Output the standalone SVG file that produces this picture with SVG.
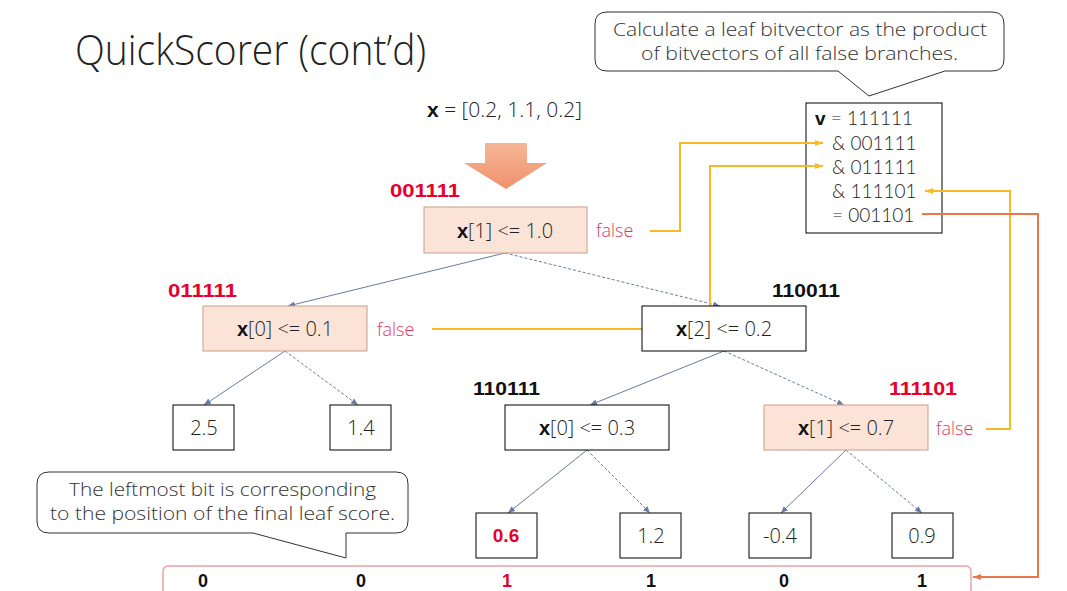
<svg xmlns="http://www.w3.org/2000/svg" width="1067" height="591" viewBox="0 0 1067 591">
<defs>
<style>
.lt{font-family:"Open Sans","Liberation Sans",sans-serif;font-weight:300;fill:#222}
.vb{font-family:"Lato","Open Sans","Liberation Sans",sans-serif;font-weight:300;font-size:19px;fill:#222}
.bd{font-family:"Liberation Sans","Noto Sans",sans-serif;font-weight:bold}
.red{fill:#e8002d}
.blk{fill:#111}
.fl{font-family:"Open Sans","Liberation Sans",sans-serif;font-weight:300;font-size:18px;fill:#d63c64}
.call{font-family:"Open Sans","Liberation Sans",sans-serif;font-weight:300;font-size:19px;fill:#333}
.pk{fill:#fbe4d7;stroke:#c99f88;stroke-width:1}
.wh{fill:#fff;stroke:#000;stroke-width:1}
.e{stroke:#6a78a8;stroke-width:1;fill:none}
.d{stroke-dasharray:3 2}
.y{stroke:#f9b927;stroke-width:2;fill:none}
.o{stroke:#e8784a;stroke-width:2;fill:none}
</style>
<marker id="ah" markerWidth="8" markerHeight="8" refX="7" refY="4" orient="auto" markerUnits="userSpaceOnUse"><path d="M0,1 L7,4 L0,7 Z" fill="#6a78a8"/></marker>
<marker id="ay" markerWidth="9" markerHeight="8" refX="8" refY="4" orient="auto" markerUnits="userSpaceOnUse"><path d="M0,1 L8,4 L0,7 Z" fill="#f9b927"/></marker>
<marker id="ao" markerWidth="9" markerHeight="8" refX="8" refY="4" orient="auto" markerUnits="userSpaceOnUse"><path d="M0,1 L8,4 L0,7 Z" fill="#e8784a"/></marker>
<linearGradient id="ga" x1="0" y1="0" x2="0" y2="1"><stop offset="0" stop-color="#f6b698"/><stop offset="1" stop-color="#f0916c"/></linearGradient>
</defs>
<rect width="1067" height="591" fill="#fff"/>

<text x="75" y="65" class="lt" font-size="43" textLength="351" lengthAdjust="spacingAndGlyphs">QuickScorer (cont’d)</text>
<text x="427" y="117" class="lt" font-size="21" textLength="155" lengthAdjust="spacingAndGlyphs"><tspan class="bd" fill="#111">x</tspan> = [0.2, 1.1, 0.2]</text>
<path d="M485,143 H527 V163 H547 L506,189 L464,163 H485 Z" fill="url(#ga)"/>

<g id="callout-top">
<path d="M607,12 H992 Q1004,12 1004,24 V59 Q1004,71 992,71 H945 L869,96 L838,71 H607 Q595,71 595,59 V24 Q595,12 607,12 Z" fill="#fff" stroke="#333" stroke-width="1"/>
<text x="613" y="36" class="call" textLength="374" lengthAdjust="spacingAndGlyphs">Calculate a leaf bitvector as the product</text>
<text x="641" y="60" class="call" textLength="317" lengthAdjust="spacingAndGlyphs">of bitvectors of all false branches.</text>
</g>

<g id="vbox">
<rect x="806" y="103" width="136" height="130" class="wh"/>
<text x="815" y="125" class="vb"><tspan class="bd" fill="#111">v</tspan> = 111111</text>
<text x="832" y="150" class="vb">&amp; 001111</text>
<text x="832" y="174" class="vb">&amp; 011111</text>
<text x="832" y="198" class="vb">&amp; 111101</text>
<text x="832" y="222" class="vb">= 001101</text>
</g>

<g id="connectors">
<path d="M505,253 L288,306" class="e" marker-end="url(#ah)"/>
<path d="M505,253 L720,306" class="e d" marker-end="url(#ah)"/>
<path d="M285,351 L204,405" class="e" marker-end="url(#ah)"/>
<path d="M285,351 L358,405" class="e d" marker-end="url(#ah)"/>
<path d="M724,351 L590,405" class="e" marker-end="url(#ah)"/>
<path d="M724,351 L844,405" class="e d" marker-end="url(#ah)"/>
<path d="M587,450 L508,513" class="e" marker-end="url(#ah)"/>
<path d="M587,450 L650,513" class="e d" marker-end="url(#ah)"/>
<path d="M846,450 L781,513" class="e" marker-end="url(#ah)"/>
<path d="M846,450 L922,513" class="e d" marker-end="url(#ah)"/>
<path d="M650,231 H680 V143 H823" class="y" marker-end="url(#ay)"/>
<path d="M432,329 H710 V166 H823" class="y" marker-end="url(#ay)"/>
<path d="M986,429 H1010 V191 H925" class="y" marker-end="url(#ay)"/>
<path d="M922,214 H1038 V577 H973" class="o" marker-end="url(#ao)"/>
</g>

<g id="n-root">
<text x="390" y="197" class="bd red" font-size="19" textLength="70" lengthAdjust="spacingAndGlyphs">001111</text>
<rect x="424" y="207" width="163" height="46" class="pk"/>
<text x="505" y="238" class="lt" font-size="20" text-anchor="middle"><tspan class="bd" fill="#111">x</tspan>[1] &lt;= 1.0</text>
<text x="596" y="237" class="fl">false</text>
</g>

<g id="n-x0-01">
<text x="168" y="297" class="bd red" font-size="19" textLength="69" lengthAdjust="spacingAndGlyphs">011111</text>
<rect x="203" y="306" width="164" height="45" class="pk"/>
<text x="285" y="336" class="lt" font-size="20" text-anchor="middle"><tspan class="bd" fill="#111">x</tspan>[0] &lt;= 0.1</text>
<text x="377" y="336" class="fl">false</text>
</g>

<g id="n-x2-02">
<text x="772" y="297" class="bd blk" font-size="19" textLength="68" lengthAdjust="spacingAndGlyphs">110011</text>
<rect x="642" y="306" width="164" height="45" class="wh"/>
<text x="724" y="336" class="lt" font-size="20" text-anchor="middle"><tspan class="bd" fill="#111">x</tspan>[2] &lt;= 0.2</text>
</g>

<g id="n-x0-03">
<text x="473" y="395" class="bd blk" font-size="19" textLength="67" lengthAdjust="spacingAndGlyphs">110111</text>
<rect x="505" y="405" width="164" height="45" class="wh"/>
<text x="587" y="435" class="lt" font-size="20" text-anchor="middle"><tspan class="bd" fill="#111">x</tspan>[0] &lt;= 0.3</text>
</g>

<g id="n-x1-07">
<text x="889" y="395" class="bd red" font-size="19" textLength="68" lengthAdjust="spacingAndGlyphs">111101</text>
<rect x="764" y="405" width="164" height="45" class="pk"/>
<text x="846" y="435" class="lt" font-size="20" text-anchor="middle"><tspan class="bd" fill="#111">x</tspan>[1] &lt;= 0.7</text>
<text x="936" y="435" class="fl">false</text>
</g>

<g id="leaf-25"><rect x="173" y="405" width="61" height="45" class="wh"/><text x="204" y="435" class="lt" font-size="20" text-anchor="middle">2.5</text></g>
<g id="leaf-14"><rect x="330" y="405" width="61" height="45" class="wh"/><text x="361" y="435" class="lt" font-size="20" text-anchor="middle">1.4</text></g>
<g id="leaf-06"><rect x="476" y="513" width="61" height="45" class="wh"/><text x="506" y="542" class="bd red" font-size="19" text-anchor="middle">0.6</text></g>
<g id="leaf-12"><rect x="620" y="513" width="61" height="45" class="wh"/><text x="651" y="543" class="lt" font-size="20" text-anchor="middle">1.2</text></g>
<g id="leaf-m04"><rect x="749" y="513" width="62" height="45" class="wh"/><text x="780" y="543" class="lt" font-size="20" text-anchor="middle">-0.4</text></g>
<g id="leaf-09"><rect x="892" y="513" width="61" height="45" class="wh"/><text x="922" y="543" class="lt" font-size="20" text-anchor="middle">0.9</text></g>

<g id="callout-bottom">
<path d="M49,472 H396 Q408,472 408,484 V521 Q408,533 396,533 H346 V558 L253,533 H49 Q37,533 37,521 V484 Q37,472 49,472 Z" fill="#fff" stroke="#333" stroke-width="1"/>
<text x="69" y="496" class="call" textLength="307" lengthAdjust="spacingAndGlyphs">The leftmost bit is corresponding</text>
<text x="50" y="520" class="call" textLength="345" lengthAdjust="spacingAndGlyphs">to the position of the final leaf score.</text>
</g>

<g id="bitbar">
<rect x="163" y="566" width="808" height="40" rx="5" fill="#fff" stroke="#eba3a0" stroke-width="1.5"/>
<text y="587" class="bd blk" font-size="18" text-anchor="middle">
<tspan x="203">0</tspan><tspan x="361">0</tspan><tspan x="507" fill="#e8002d">1</tspan><tspan x="651">1</tspan><tspan x="784">0</tspan><tspan x="922">1</tspan>
</text>
</g>
</svg>
